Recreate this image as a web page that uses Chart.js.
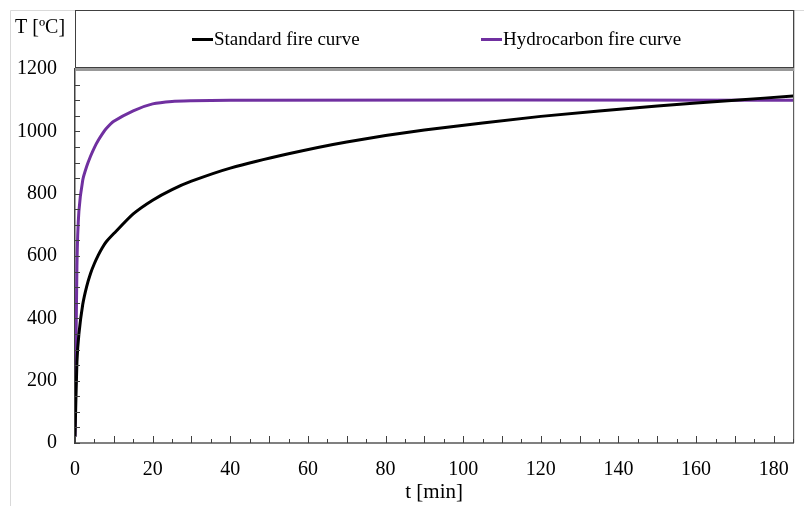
<!DOCTYPE html>
<html>
<head>
<meta charset="utf-8">
<script src="https://cdn.jsdelivr.net/npm/chart.js@4/dist/chart.umd.min.js"></script>
<style>
  html, body { margin: 0; padding: 0; background: #fff; }
  #wrap { width: 804px; height: 506px; }
</style>
</head>
<body>
<div id="wrap"><canvas id="fireChart" width="804" height="506"></canvas></div>
<script>
// time [min] and temperature [°C]
const stdTime = [0, 0.5, 1, 2, 3, 4, 5, 6, 7, 8, 10, 15, 20, 25, 30, 40, 55, 70, 90, 120, 150, 170, 185];
const stdTemp = [20, 261, 349, 445, 502, 544, 576, 603, 626, 645, 672, 735, 779, 813, 840, 882, 928, 966, 1004, 1048, 1081, 1100, 1113];

const hcTime = [0, 0.5, 1, 2, 3, 4, 5, 6, 7, 8, 10, 15, 20, 25, 30, 40, 185];
const hcTemp = [20, 569, 743, 844, 887, 920, 948, 971, 991, 1008, 1032, 1066, 1088, 1096, 1098, 1100, 1100];

const seriesNames = ['Standard fire curve', 'Hydrocarbon fire curve'];
const seriesColors = ['#000000', '#7030A0'];

const xTicks = [0, 20, 40, 60, 80, 100, 120, 140, 160, 180];
const yTicks = [0, 200, 400, 600, 800, 1000, 1200];

const serif = '"Liberation Serif", "Times New Roman", serif';

function toPoints(xs, ys) {
    return xs.map((x, i) => ({ x: x, y: ys[i] }));
}

// frame, legend box, axis caption and inner tick marks
const framePlugin = {
    id: 'framePlugin',
    afterDraw(chart) {
        const c = chart.ctx;
        const a = chart.chartArea;
        const xs = chart.scales.x;
        const ys = chart.scales.y;
        c.save();

        // faint outer frame
        c.strokeStyle = '#d9d9d9';
        c.lineWidth = 1;
        c.beginPath();
        c.moveTo(10.5, 506);
        c.lineTo(10.5, 10.5);
        c.lineTo(804, 10.5);
        c.stroke();

        // ticks on x (every 5 min, longer every 10)
        c.strokeStyle = '#404040';
        c.lineWidth = 1;
        for (let t = 0; t <= 185; t += 5) {
            const px = Math.round(xs.getPixelForValue(t)) + 0.5;
            const len = (t % 10 === 0) ? 7 : 4;
            c.beginPath();
            c.moveTo(px, a.bottom);
            c.lineTo(px, a.bottom - len);
            c.stroke();
        }
        // ticks on y every 50
        for (let v = 0; v <= 1200; v += 50) {
            const py = Math.round(ys.getPixelForValue(v)) + 0.5;
            c.beginPath();
            c.moveTo(a.left, py);
            c.lineTo(a.left + 5, py);
            c.stroke();
        }

        // right border
        c.beginPath();
        c.moveTo(a.right + 0.5, 10);
        c.lineTo(a.right + 0.5, a.bottom);
        c.stroke();

        // legend box
        c.strokeRect(a.left + 0.5, 10.5, a.right - a.left, 57);

        // top grey line of plot
        c.strokeStyle = '#999999';
        c.lineWidth = 3;
        c.beginPath();
        c.moveTo(a.left, a.top + 0.5);
        c.lineTo(a.right + 1, a.top + 0.5);
        c.stroke();

        // legend entries
        c.font = '19px ' + serif;
        c.textBaseline = 'middle';
        c.textAlign = 'left';
        const entryX = [192, 481];
        chart.data.datasets.forEach((ds, i) => {
            const x0 = entryX[i];
            c.strokeStyle = ds.borderColor;
            c.lineWidth = 3;
            c.beginPath();
            c.moveTo(x0, 39.5);
            c.lineTo(x0 + 21, 39.5);
            c.stroke();
            c.fillStyle = '#000';
            c.fillText(ds.label, x0 + 22, 40);
        });

        // y axis caption
        c.font = '20px ' + serif;
        c.fillText('T [ºC]', 15, 28);

        c.restore();
    }
};

const ctx = document.getElementById('fireChart').getContext('2d');

new Chart(ctx, {
    type: 'line',
    data: {
        datasets: [{
            label: seriesNames[0],
            data: toPoints(stdTime, stdTemp),
            borderColor: seriesColors[0],
            backgroundColor: seriesColors[0],
            borderWidth: 3,
            pointRadius: 0,
            tension: 0.2,
            fill: false
        }, {
            label: seriesNames[1],
            data: toPoints(hcTime, hcTemp),
            borderColor: seriesColors[1],
            backgroundColor: seriesColors[1],
            borderWidth: 3,
            pointRadius: 0,
            tension: 0.2,
            fill: false
        }]
    },
    options: {
        responsive: false,
        animation: false,
        layout: {
            padding: { top: 69, right: 9, bottom: 0, left: 0 }
        },
        plugins: {
            legend: { display: false },
            tooltip: { enabled: false }
        },
        scales: {
            x: {
                type: 'linear',
                min: 0,
                max: 185,
                afterFit(scale) { scale.height = 63; },
                afterBuildTicks(scale) {
                    scale.ticks = xTicks.map(v => ({ value: v }));
                },
                grid: { display: false, drawTicks: false },
                border: { display: true, color: '#808080', width: 2 },
                ticks: {
                    padding: 15,
                    color: '#000',
                    font: { family: serif, size: 20 },
                    callback: v => String(v)
                },
                title: {
                    display: true,
                    text: 't [min]',
                    color: '#000',
                    font: { family: serif, size: 21 },
                    padding: { top: 0, bottom: 1 }
                }
            },
            y: {
                min: 0,
                max: 1200,
                afterFit(scale) { scale.width = 75; },
                afterBuildTicks(scale) {
                    scale.ticks = yTicks.map(v => ({ value: v }));
                },
                grid: { display: false, drawTicks: false },
                border: { display: true, color: '#404040', width: 1.5 },
                ticks: {
                    padding: 18,
                    color: '#000',
                    font: { family: serif, size: 20 },
                    callback: v => String(v)
                }
            }
        }
    },
    plugins: [framePlugin]
});
</script>
</body>
</html>
